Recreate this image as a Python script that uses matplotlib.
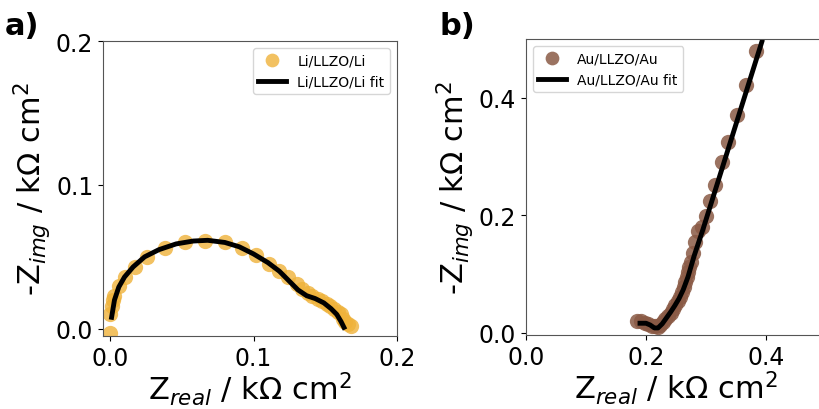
import matplotlib
matplotlib.use("Agg")
import matplotlib.pyplot as plt

# Li/LLZO/Li impedance spectrum (kOhm cm^2)
li_real = [0.000, 0.000, 0.001, 0.002, 0.003, 0.006, 0.010, 0.017, 0.026, 0.038,
           0.052, 0.066, 0.080, 0.092, 0.102, 0.111, 0.118, 0.124, 0.130, 0.134,
           0.138, 0.141, 0.145, 0.148, 0.151, 0.153, 0.156, 0.159, 0.161, 0.162,
           0.164, 0.166, 0.168]
li_img = [-0.003, 0.010, 0.016, 0.020, 0.023, 0.030, 0.036, 0.043, 0.050, 0.056,
          0.060, 0.061, 0.060, 0.056, 0.051, 0.045, 0.040, 0.036, 0.031, 0.028,
          0.025, 0.023, 0.021, 0.019, 0.017, 0.016, 0.014, 0.012, 0.010, 0.007,
          0.005, 0.003, 0.002]
li_fit_real = [0.001, 0.003, 0.006, 0.010, 0.016, 0.024, 0.034, 0.046, 0.058, 0.068,
               0.080, 0.090, 0.100, 0.110, 0.118, 0.125, 0.131, 0.137, 0.143, 0.149,
               0.154, 0.158, 0.161, 0.163]
li_fit_img = [0.008, 0.020, 0.029, 0.036, 0.043, 0.050, 0.055, 0.059, 0.061, 0.0615,
              0.060, 0.057, 0.052, 0.046, 0.040, 0.033, 0.027, 0.023, 0.021, 0.018,
              0.014, 0.010, 0.005, 0.001]

# Au/LLZO/Au impedance spectrum (kOhm cm^2)
au_real = [0.185, 0.192, 0.198, 0.204, 0.210, 0.215, 0.220, 0.224, 0.228, 0.232,
           0.237, 0.241, 0.245, 0.249, 0.253, 0.257, 0.260, 0.263, 0.265, 0.268,
           0.270, 0.272, 0.275, 0.278, 0.282, 0.287, 0.293, 0.300, 0.307, 0.315,
           0.327, 0.337, 0.352, 0.367, 0.383]
au_img = [0.020, 0.019, 0.016, 0.014, 0.012, 0.011, 0.010, 0.013, 0.018, 0.023,
          0.028, 0.034, 0.040, 0.047, 0.054, 0.061, 0.069, 0.077, 0.086, 0.095,
          0.103, 0.112, 0.121, 0.135, 0.154, 0.173, 0.180, 0.198, 0.224, 0.252,
          0.290, 0.325, 0.371, 0.422, 0.480]
au_fit_real = [0.190, 0.200, 0.207, 0.214, 0.220, 0.227, 0.234, 0.241, 0.248, 0.255,
               0.262, 0.270, 0.280, 0.295, 0.393]
au_fit_img = [0.016, 0.016, 0.013, 0.008, 0.008, 0.015, 0.025, 0.035, 0.046, 0.058,
              0.073, 0.095, 0.130, 0.176, 0.495]

li_color = "#efb23a"
au_color = "#8a5a45"

fig = plt.figure(figsize=(8.2, 4.1), dpi=100)
ax_a = fig.add_axes([103 / 820, 73 / 410, 294 / 820, 295 / 410])
ax_b = fig.add_axes([526 / 820, 74 / 410, 300 / 820, 296 / 410])

label_fs = 22
tick_fs = 17

# panel a
ax_a.plot(li_real, li_img, "o", color=li_color, alpha=0.8, markersize=11,
          markeredgewidth=0, label="Li/LLZO/Li")
ax_a.plot(li_fit_real, li_fit_img, "-", color="black", linewidth=3.5,
          label="Li/LLZO/Li fit")
ax_a.set_xlim(-0.005, 0.2)
ax_a.set_ylim(-0.005, 0.2)
ax_a.set_xticks([0.0, 0.1, 0.2])
ax_a.set_yticks([0.0, 0.1, 0.2])
ax_a.legend(loc="upper right", fontsize=10, markerscale=0.9)

# panel b
ax_b.plot(au_real, au_img, "o", color=au_color, alpha=0.85, markersize=11,
          markeredgewidth=0, label="Au/LLZO/Au")
ax_b.plot(au_fit_real, au_fit_img, "-", color="black", linewidth=3.5,
          label="Au/LLZO/Au fit")
ax_b.set_xlim(0.0, 0.5)
ax_b.set_ylim(-0.004, 0.5)
ax_b.set_xticks([0.0, 0.2, 0.4])
ax_b.set_yticks([0.0, 0.2, 0.4])
ax_b.legend(loc="upper left", fontsize=10, markerscale=0.9)

for ax in (ax_a, ax_b):
    ax.set_xlabel(r"Z$_{real}$ / k$\Omega$ cm$^2$", fontsize=label_fs, labelpad=0)
    ax.set_ylabel(r"-Z$_{img}$ / k$\Omega$ cm$^2$", fontsize=label_fs, labelpad=2)
    ax.tick_params(labelsize=tick_fs)
    for s in ax.spines.values():
        s.set_color("#555555")

fig.text(5 / 820, 1 - 35 / 410, "a)", fontsize=22, fontweight="bold")
fig.text(440 / 820, 1 - 35 / 410, "b)", fontsize=22, fontweight="bold")

fig.savefig("out.png", dpi=100)
